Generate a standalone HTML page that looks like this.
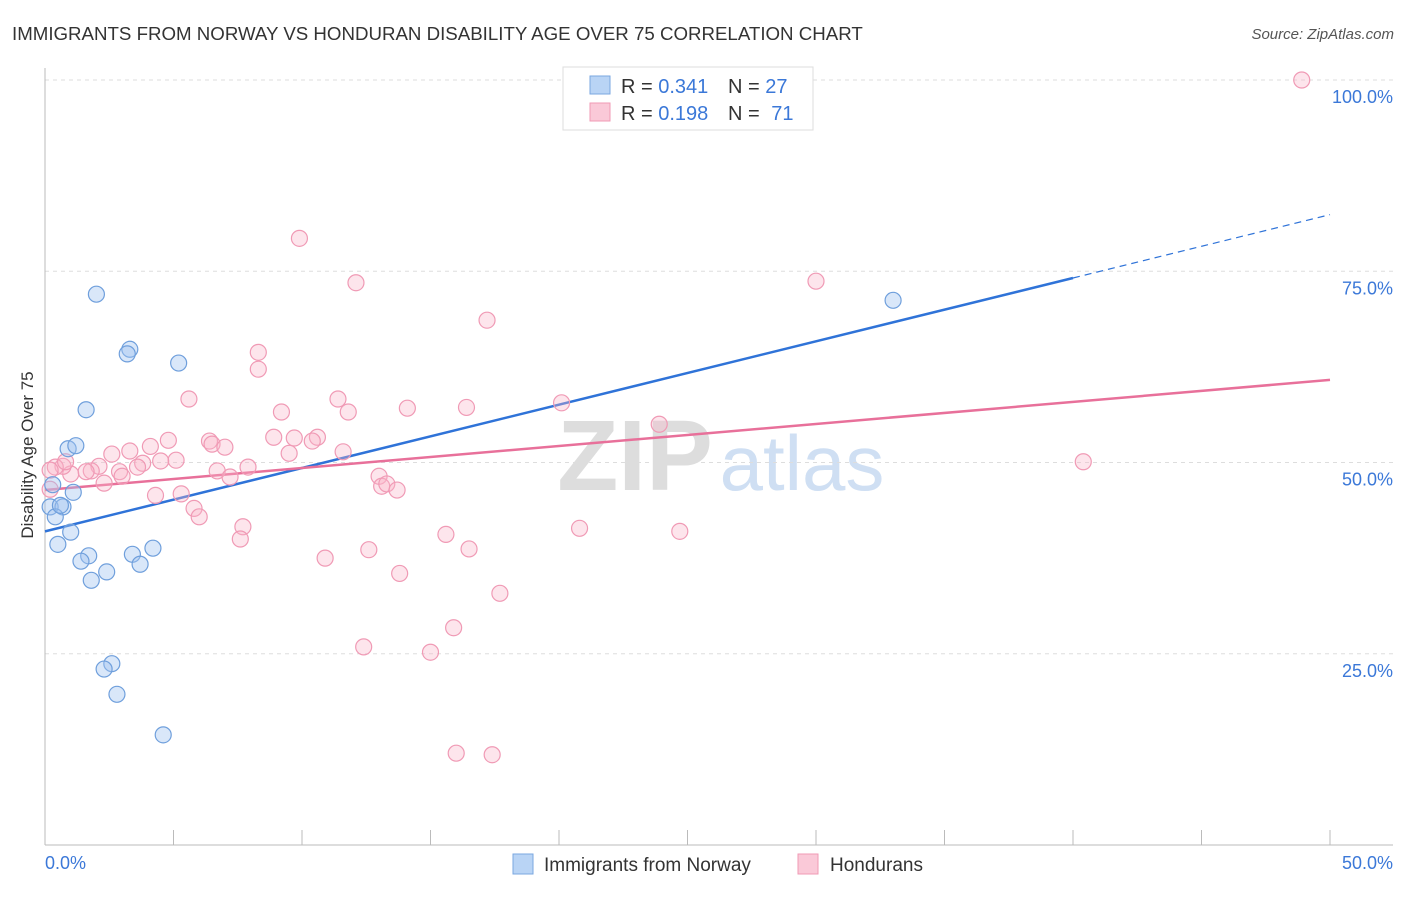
<!DOCTYPE html>
<html><head><meta charset="utf-8">
<style>
body{margin:0;background:#fff;font-family:"Liberation Sans",sans-serif;}
svg text{font-family:"Liberation Sans",sans-serif;}
</style></head>
<body>
<svg id="c" width="1406" height="892" viewBox="0 0 1406 892" xmlns="http://www.w3.org/2000/svg">
<text x="12" y="40" font-size="18.7" fill="#333">IMMIGRANTS FROM NORWAY VS HONDURAN DISABILITY AGE OVER 75 CORRELATION CHART</text>
<text x="1394" y="39" font-size="15" fill="#555" text-anchor="end" font-style="italic">Source: ZipAtlas.com</text>
<g>
<text x="635" y="490" font-size="100" fill="#ddd" text-anchor="middle" font-family="Liberation Serif" font-weight="bold">ZIP</text>
<text x="802" y="490" font-size="78" fill="#cfdff3" text-anchor="middle">atlas</text>
</g>
<g id="grid"></g>
<g id="axes"></g>
<g id="lines"></g>
<g id="pts"></g>
<text x="33" y="455" font-size="17" fill="#333" text-anchor="middle" transform="rotate(-90 33 455)">Disability Age Over 75</text>
<text x="45" y="869" font-size="18" fill="#3b78d8">0.0%</text>
<text x="1393" y="869" font-size="18" fill="#3b78d8" text-anchor="end">50.0%</text>
<g>
<rect x="563" y="67" width="250" height="63" fill="#fff" stroke="#ddd"/>
<rect x="590" y="76" width="20" height="18" fill="#b9d4f5" stroke="#7aa7e0"/>
<rect x="590" y="103" width="20" height="18" fill="#fac9d8" stroke="#f09ab5"/>
<text x="621" y="93" font-size="20" fill="#333">R = <tspan fill="#3b78d8">0.341</tspan></text>
<text x="728" y="93" font-size="20" fill="#333">N = <tspan fill="#3b78d8">27</tspan></text>
<text x="621" y="120" font-size="20" fill="#333">R = <tspan fill="#3b78d8">0.198</tspan></text>
<text x="728" y="120" font-size="20" fill="#333">N = <tspan fill="#3b78d8" dx="6">71</tspan></text>
</g>
<g>
<rect x="513" y="854" width="20" height="20" fill="#b9d4f5" stroke="#7aa7e0"/>
<text x="544" y="871" font-size="19" fill="#333">Immigrants from Norway</text>
<rect x="798" y="854" width="20" height="20" fill="#fac9d8" stroke="#f09ab5"/>
<text x="830" y="871" font-size="19" fill="#333">Hondurans</text>
</g>
</svg>
<script>
const yTicks=[25,50,75,100];
const yTickLabels=["25.0%","50.0%","75.0%","100.0%"];
const norwayX=[2.0,3.3,3.2,5.2,1.6,0.9,1.2,1.1,0.3,0.2,0.7,0.4,0.5,1.0,1.7,1.4,1.8,2.4,3.4,3.7,4.2,2.6,2.3,2.8,4.6,33.0,0.6];
const norwayY=[72.0,64.8,64.2,63.0,56.9,51.8,52.2,46.1,47.1,44.2,44.2,42.9,39.3,40.9,37.8,37.1,34.6,35.7,38.0,36.7,38.8,23.7,23.0,19.7,14.4,71.2,44.4];
const hondX=[48.9,9.9,12.1,30.0,17.2,8.3,8.3,5.6,11.4,9.2,11.8,14.1,16.4,20.1,23.9,40.4,4.8,4.1,3.3,2.6,6.4,6.5,7.0,8.9,9.7,10.6,10.4,9.5,11.6,5.1,4.5,3.8,2.9,3.0,3.6,2.1,1.8,1.6,1.0,0.7,0.4,0.2,0.8,2.3,6.7,7.2,7.9,4.3,5.3,5.8,6.0,13.0,13.1,13.3,13.7,7.7,7.6,10.9,12.6,15.6,16.5,20.8,24.7,13.8,17.7,15.9,12.4,15.0,16.0,17.4,0.2];
const hondY=[100,79.3,73.5,73.7,68.6,64.4,62.2,58.3,58.3,56.6,56.6,57.1,57.2,57.8,55.0,50.1,52.9,52.1,51.5,51.1,52.8,52.4,52.0,53.3,53.2,53.3,52.8,51.2,51.4,50.3,50.2,49.9,48.8,48.2,49.4,49.5,48.9,48.8,48.5,49.5,49.4,49.0,50.1,47.3,48.9,48.1,49.4,45.7,45.9,44.0,42.9,48.2,46.9,47.2,46.4,41.6,40.0,37.5,38.6,40.6,38.7,41.4,41.0,35.5,32.9,28.4,25.9,25.2,12.0,11.8,46.5];
const norwayTrend=[41.0,82.4];
const hondTrend=[46.4,60.8];
const NS="http://www.w3.org/2000/svg";
const sx=v=>45+v/50*1285;
const sy=v=>845-v/100*765;
function mk(tag,at,parent){const e=document.createElementNS(NS,tag);for(const k in at)e.setAttribute(k,at[k]);document.getElementById(parent).appendChild(e);return e;}
yTicks.forEach((t,i)=>{
 const g=mk('line',{x1:45,x2:1393,y1:sy(t),y2:sy(t),stroke:'#ddd','stroke-dasharray':'4,4'},'grid');
 
 
 const tx=mk('text',{x:1393,y:sy(t)+23,'font-size':18,fill:'#3b78d8','text-anchor':'end'},'grid');
 tx.textContent=yTickLabels[i];
 
 
});
const ax=mk('line',{x1:45,x2:45,y1:68,y2:845,stroke:'#bbb'},'axes');


const bx=mk('line',{x1:45,x2:1393,y1:845,y2:845,stroke:'#bbb'},'axes');


for(let v=0;v<=50;v+=5){const t=mk('line',{x1:sx(v),x2:sx(v),y1:830,y2:845,stroke:'#bbb'},'axes');
 
 }
const bl=mk('line',{x1:sx(0),y1:sy(norwayTrend[0]),x2:sx(40),y2:sy(norwayTrend[0]+(norwayTrend[1]-norwayTrend[0])*0.8),stroke:'#2f73d8','stroke-width':2.5},'lines');


const bd=mk('line',{x1:sx(40),y1:sy(norwayTrend[0]+(norwayTrend[1]-norwayTrend[0])*0.8),x2:sx(50),y2:sy(norwayTrend[1]),stroke:'#2f73d8','stroke-width':1.2,'stroke-dasharray':'7,5'},'lines');


const pl=mk('line',{x1:sx(0),y1:sy(hondTrend[0]),x2:sx(50),y2:sy(hondTrend[1]),stroke:'#e8709a','stroke-width':2.5},'lines');


hondX.forEach((x,i)=>{const c=mk('circle',{cx:sx(x),cy:sy(hondY[i]),r:8,fill:'rgba(248,180,200,0.35)',stroke:'#f09ab5','stroke-width':1.2},'pts');
 
 });
norwayX.forEach((x,i)=>{const c=mk('circle',{cx:sx(x),cy:sy(norwayY[i]),r:8,fill:'rgba(160,195,240,0.4)',stroke:'#6f9fdc','stroke-width':1.2},'pts');
 
 });
</script>
</body></html>
